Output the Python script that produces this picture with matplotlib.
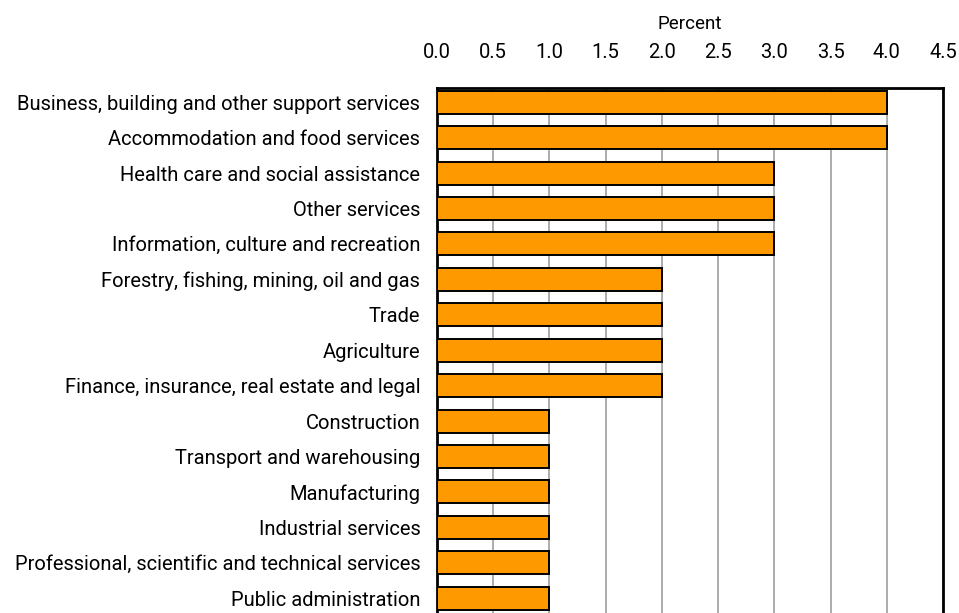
import matplotlib
matplotlib.use('Agg')
from matplotlib import pyplot as plt
import numpy as np

# ----- data ----- #
industries = [
    'Business, building and other support services',
    'Accommodation and food services',
    'Health care and social assistance',
    'Other services',
    'Information, culture and recreation',
    'Forestry, fishing, mining, oil and gas',
    'Trade',
    'Agriculture',
    'Finance, insurance, real estate and legal',
    'Construction',
    'Transport and warehousing',
    'Manufacturing',
    'Industrial services',
    'Professional, scientific and technical services',
    'Public administration',
]
percent = [4.0, 4.0, 3.0, 3.0, 3.0, 2.0, 2.0, 2.0, 2.0, 1.0, 1.0, 1.0, 1.0, 1.0, 1.0]
xticks = [0.0, 0.5, 1.0, 1.5, 2.0, 2.5, 3.0, 3.5, 4.0, 4.5]

plt.rcParams['font.family'] = ['Roboto', 'DejaVu Sans']

W, H = 959, 613
fig = plt.figure(figsize=(W / 100, H / 100), dpi=100)
# axes in pixels: left 437, right 943, top 88, bottom below the figure edge
left, right, top = 437, 943, 88
row = 35.43
bottom = top + 15.0 * row
ax = fig.add_axes([left / W, (H - bottom) / H, (right - left) / W, (bottom - top) / H])

y = np.arange(len(industries))
ax.barh(y, percent, height=0.65, color='#FF9900', edgecolor='black', linewidth=1.4, zorder=3)

ax.set_xlim(0, 4.5)
ax.set_ylim(14.6, -0.4)
ax.set_xticks(xticks)
ax.set_xticklabels(['%.1f' % t for t in xticks])
ax.xaxis.tick_top()
ax.xaxis.set_label_position('top')
ax.set_xlabel('Percent', fontsize=13.5, labelpad=10)
ax.tick_params(axis='x', length=0, labelsize=14.5, pad=19)
ax.set_yticks(y)
ax.set_yticklabels(industries, fontsize=14.5)
ax.tick_params(axis='y', length=0, pad=12)
ax.grid(axis='x', color='#A6A6A6', linewidth=1.3, zorder=0)
for s in ax.spines.values():
    s.set_linewidth(2)
    s.set_color('black')

fig.savefig('out.png', dpi=100)
